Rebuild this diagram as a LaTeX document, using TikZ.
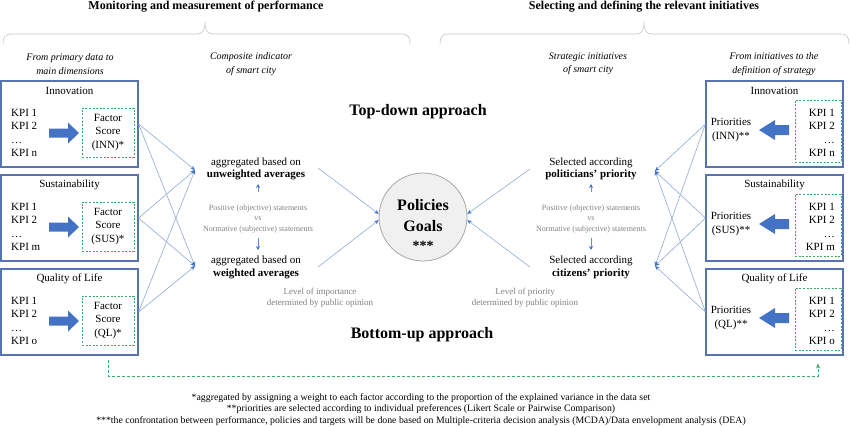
\documentclass[tikz,border=0pt]{standalone}
\usepackage{fontspec}
\setmainfont{Liberation Serif}
\usetikzlibrary{arrows.meta,calc}
\definecolor{boxblue}{HTML}{5674AE}
\definecolor{arrowblue}{HTML}{4472C4}
\definecolor{linkblue}{HTML}{8FA9D8}
\definecolor{dgreen}{HTML}{3AA96E}
\definecolor{greytxt}{HTML}{808080}
\definecolor{bracegrey}{HTML}{C4C4C4}
\begin{document}
\begin{tikzpicture}[x=1pt,y=-1pt,
  outerbox/.style={draw=boxblue, line width=1.1pt, minimum width=137pt, minimum height=86pt, inner sep=0pt},
  dashbox/.style={draw=dgreen, line width=0.9pt, dash pattern=on 2pt off 1.6pt, inner sep=0pt},
  txt/.style={font=\fontsize{11}{13.3}\selectfont, inner sep=0pt, align=center},
  subtxt/.style={font=\fontsize{10}{13.5}\selectfont\itshape, inner sep=0pt, align=center},
  midtxt/.style={font=\fontsize{11}{12.5}\selectfont, inner sep=0pt, align=center},
  stattxt/.style={font=\fontsize{8}{10.5}\selectfont, text=greytxt, inner sep=0pt, align=center},
  leveltxt/.style={font=\fontsize{9}{11}\selectfont, text=greytxt, inner sep=0pt, align=center},
  headtxt/.style={font=\fontsize{12}{14}\selectfont\bfseries, inner sep=0pt},
  approachtxt/.style={font=\fontsize{16}{18}\selectfont\bfseries, inner sep=0pt},
  link/.style={draw=linkblue, line width=0.6pt, -{Stealth[length=4.5pt,width=4pt,color=arrowblue]}},
  smallarr/.style={draw=arrowblue!80, line width=0.8pt, -{Stealth[length=4pt,width=4pt,color=arrowblue]}},
  gline/.style={draw=dgreen, line width=0.8pt, dash pattern=on 3pt off 2pt, -{Stealth[length=5pt,width=4pt]}},
  bracepath/.style={draw=bracegrey, line width=0.6pt},
  barrowR/.pic={\fill[arrowblue] (-15,-4.5) -- (4,-4.5) -- (4,-10.5) -- (15,0) -- (4,10.5) -- (4,4.5) -- (-15,4.5) -- cycle;},
  barrowL/.pic={\fill[arrowblue] (15,-5) -- (1,-5) -- (1,-10) -- (-15,0) -- (1,10) -- (1,5) -- (15,5) -- cycle;}
]
\useasboundingbox (0,0) rectangle (850,426);

% headings and braces
\node[headtxt] (h1) at (206,7) {Monitoring and measurement of performance};
\node[headtxt] (h2) at (644,7) {Selecting and defining the relevant initiatives};
\path[bracepath] (3,44) .. controls (3,37) and (5,34) .. (12,34) -- (197,34) .. controls (203,34) and (205,30) .. (205,22) .. controls (205,30) and (207,34) .. (213,34) -- (401,34) .. controls (408,34) and (410,37) .. (410,44);
\path[bracepath] (440,44) .. controls (440,37) and (442,34) .. (449,34) -- (636,34) .. controls (642,34) and (644,30) .. (644,22) .. controls (644,30) and (646,34) .. (652,34) -- (840,34) .. controls (847,34) and (849,37) .. (849,44);

% sub headings
\node[subtxt] (s1) at (70,64) {From primary data to\\main dimensions};
\node[subtxt] (s2) at (251,64) {Composite indicator\\of smart city};
\node[subtxt] (s3) at (588,64) {Strategic initiatives\\of smart city};
\node[subtxt] (s4) at (774,64) {From initiatives to the\\definition of strategy};

% left and right boxes
\foreach \T/\n/\ttl/\k/\cd in {81/1/Innovation/n/INN, 175/2/Sustainability/m/SUS, 269/3/Quality of Life/o/QL}{
  \node[outerbox] (lb\n) at (69.5,\T+43) {};
  \node[txt] (lt\n) at (69.5,\T+10) {\ttl};
  \node[txt, align=left, anchor=west] (lk\n) at (11,\T+52) {KPI 1\\KPI 2\\\dots\\KPI \k};
  \node[dashbox, txt, minimum width=52pt, minimum height=49pt] (lf\n) at (108,\T+51.5) {Factor\\Score\\(\cd)*};
  \pic at (64,\T+52) {barrowR};
  \node[outerbox] (rb\n) at (774.5,\T+43) {};
  \node[txt] (rt\n) at (774.5,\T+10) {\ttl};
  \node[dashbox, minimum width=46pt, minimum height=62pt] (rf\n) at (818,\T+50) {};
  \node[txt, align=right, anchor=east] (rk\n) at (835,\T+52) {KPI 1\\KPI 2\\\dots\\KPI \k};
  \node[txt] (rp\n) at (731,\T+49) {Priorities\\(\cd)**};
  \pic at (774,\T+49) {barrowL};
}

% approach titles
\node[approachtxt] (td) at (418,112) {Top-down approach};
\node[approachtxt] (bu) at (422,335) {Bottom-up approach};

% central circle
\node[circle, draw=black!35, fill=black!6, line width=0.8pt, minimum size=88pt, inner sep=0pt] (c) at (423,217) {};
\node[font=\fontsize{16}{21}\selectfont\bfseries, align=center, inner sep=0pt] (pg) at (423,216) {Policies\\Goals};
\node[font=\fontsize{14}{14}\selectfont\bfseries, inner sep=0pt] (st) at (423,246) {***};

% left middle column
\node[midtxt] (agg1) at (256,169) {aggregated based on\\\textbf{unweighted averages}};
\node[stattxt] (stl) at (258,219) {Positive (objective) statements\\vs\\Normative (subjective) statements};
\node[midtxt] (agg2) at (256,267.5) {aggregated based on\\\textbf{weighted averages}};
\node[leveltxt] (lvl1) at (320,297.5) {Level of importance\\determined by public opinion};

% right middle column
\node[midtxt] (sel1) at (591,169) {Selected according\\\textbf{politicians' priority}};
\node[stattxt] (str) at (591,219) {Positive (objective) statements\\vs\\Normative (subjective) statements};
\node[midtxt] (sel2) at (591,267.5) {Selected according\\\textbf{citizens' priority}};
\node[leveltxt] (lvl2) at (525,297.5) {Level of priority\\determined by public opinion};

% small vertical arrows
\coordinate (a1s) at (258,192); \coordinate (a1e) at (258,184);
\coordinate (a2s) at (258,238); \coordinate (a2e) at (258,250);
\coordinate (a3s) at (591,192); \coordinate (a3e) at (591,184);
\coordinate (a4s) at (591,238); \coordinate (a4e) at (591,250);
\draw[smallarr] (a1s) -- (a1e);
\draw[smallarr] (a2s) -- (a2e);
\draw[smallarr] (a3s) -- (a3e);
\draw[smallarr] (a4s) -- (a4e);

% connector targets
\coordinate (tu) at (195,170);
\coordinate (tl) at (195,266);
\coordinate (ru) at (655,171);
\coordinate (rl) at (655,266);
\foreach \n in {1,2,3}{
  \draw[link] (lb\n.east) -- (tu);
  \draw[link] (lb\n.east) -- (tl);
  \draw[link] (rb\n.west) -- (ru);
  \draw[link] (rb\n.west) -- (rl);
}

% arrows to circle
\coordinate (fu) at (318,168);
\coordinate (fl) at (318,267);
\coordinate (gu) at (530,169);
\coordinate (gl) at (530,267);
\draw[link] (fu) -- (c.176);
\draw[link] (fl) -- (c.184);
\draw[link] (gu) -- (c.4);
\draw[link] (gl) -- (c.356);

% green dashed feedback
\draw[gline] ($(lf3.south)+(0,15)$) -- ($(lf3.south)+(0,31)$) -| ($(rf3.south)+(0,13)$);

% footnotes
\node[font=\fontsize{9.8}{11.6}\selectfont, align=center, inner sep=0pt] (fn) at (421,409.5) {*aggregated by assigning a weight to each factor according to the proportion of the explained variance in the data set\\**priorities are selected according to individual preferences (Likert Scale or Pairwise Comparison)\\***the confrontation between performance, policies and targets will be done based on Multiple-criteria decision analysis (MCDA)/Data envelopment analysis (DEA)};
\end{tikzpicture}
\end{document}
